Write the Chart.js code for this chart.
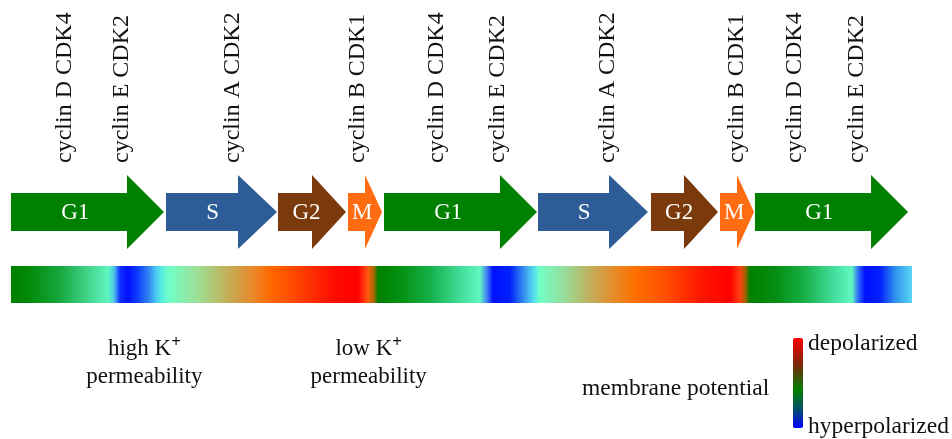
<!DOCTYPE html>
<html>
<head>
<meta charset="utf-8">
<script src="https://cdn.jsdelivr.net/npm/chart.js@4"></script>
<style>
  html, body { margin: 0; padding: 0; background: #fff; }
  #wrap { width: 952px; height: 439px; }
</style>
</head>
<body>
<div id="wrap"><canvas id="chart" width="952" height="439"></canvas></div>
<script>
// time axis runs 0..100 across three passes through the cycle
const phaseNames = ['G1', 'S', 'G2', 'M', 'G1', 'S', 'G2', 'M', 'G1'];
const phaseStart = [0, 17.2, 29.63, 37.4, 41.4, 58.49, 71.03, 78.69, 82.57];
const phaseEnd = [16.98, 29.52, 37.18, 41.18, 58.38, 70.7, 78.47, 82.46, 99.56];

const cyclinNames = ['cyclin D CDK4', 'cyclin E CDK2', 'cyclin A CDK2', 'cyclin B CDK1',
  'cyclin D CDK4', 'cyclin E CDK2', 'cyclin A CDK2', 'cyclin B CDK1',
  'cyclin D CDK4', 'cyclin E CDK2'];
const cyclinTimes = [5.99, 12.32, 24.64, 38.51, 47.28, 54.05, 66.26, 80.58, 87.01, 93.9];

// membrane potential along the cycle, as colour stops of the bar
const potentialTimes = [0, 2.11, 5.44, 8.77, 10.77, 11.43, 12.1, 12.99, 14.1, 15.21, 16.09, 16.76,
  17.43, 20.98, 24.53, 27.41, 28.75, 32.08, 35.96, 38.51, 39.62, 40.29, 40.73,
  43.17, 46.5, 49.83, 52.05, 52.72, 53.5, 55.38, 56.71, 57.82, 58.38, 58.6,
  61.49, 64.48, 67.04, 69.26, 72.59, 76.47, 79.8, 80.91, 81.47, 82.02,
  84.79, 88.12, 91.45, 93.34, 94.01, 94.78, 96.45, 98.11, 100];
const potentialColors = ['#007f00', '#028a08', '#18a840', '#45d890', '#5ef5c0', '#50c8e8', '#1030ff', '#0010ff', '#1040ff', '#3080f0', '#48c8f0', '#58f0e0',
  '#70ffc8', '#a0dc90', '#c8a850', '#f08020', '#ff6a00', '#ff4000', '#ff0a00', '#ff0000', '#ff5a10', '#a06a00', '#008000',
  '#029010', '#15b048', '#40dc98', '#60f8c0', '#4890f0', '#0010ff', '#0020ff', '#3080f0', '#50d0f0', '#60f0e0', '#70ffc8',
  '#98dc98', '#c4ac58', '#e88a28', '#ff7000', '#ff5000', '#ff1800', '#ff0000', '#ff4010', '#a86000', '#008000',
  '#058c10', '#18b048', '#45e0a0', '#60f8c0', '#3070f8', '#0010ff', '#0020ff', '#3090f0', '#58d8f0'];

const permLabels = ['high K', 'low K'];
const permTimes = [14.8, 39.7];

const legendTitle = 'membrane potential';
const legendTop = 'depolarized';
const legendBottom = 'hyperpolarized';

// styles
const FONT = '"Liberation Serif", "Times New Roman", serif';
const phaseColor = { G1: '#008000', S: '#2e5c96', G2: '#7a3a0b', M: '#ff6c12' };
const headLength = { G1: 37, S: 39, G2: 34, M: 17 };

const cellCycle = {
  id: 'cellCycle',
  afterDatasetsDraw(chart) {
    const ctx = chart.ctx;
    const x = chart.scales.x;
    const top = chart.chartArea.top;
    ctx.save();

    // cyclin labels
    ctx.fillStyle = '#111';
    ctx.font = '24px ' + FONT;
    ctx.textAlign = 'left';
    ctx.textBaseline = 'middle';
    cyclinNames.forEach((name, i) => {
      ctx.save();
      ctx.translate(x.getPixelForValue(cyclinTimes[i]), top + 163);
      ctx.rotate(-Math.PI / 2);
      ctx.fillText(name, 0, 0);
      ctx.restore();
    });

    // phase arrows
    const bodyTop = top + 193, bodyBot = top + 231, headTop = top + 175, headBot = top + 249;
    const mid = (bodyTop + bodyBot) / 2;
    phaseNames.forEach((p, i) => {
      const x0 = x.getPixelForValue(phaseStart[i]);
      const x1 = x.getPixelForValue(phaseEnd[i]);
      const hb = x1 - headLength[p];
      ctx.beginPath();
      ctx.moveTo(x0, bodyTop);
      ctx.lineTo(hb, bodyTop);
      ctx.lineTo(hb, headTop);
      ctx.lineTo(x1, mid);
      ctx.lineTo(hb, headBot);
      ctx.lineTo(hb, bodyBot);
      ctx.lineTo(x0, bodyBot);
      ctx.closePath();
      ctx.fillStyle = phaseColor[p];
      ctx.fill();
      ctx.fillStyle = '#fff';
      ctx.font = '23px ' + FONT;
      ctx.textAlign = 'center';
      ctx.textBaseline = 'middle';
      ctx.fillText(p, x0 + (x1 - x0) * 0.42, mid + 1);
    });

    // membrane potential bar
    const xs = x.getPixelForValue(0), xe = x.getPixelForValue(100);
    const grad = ctx.createLinearGradient(xs, 0, xe, 0);
    potentialTimes.forEach((t, i) => {
      grad.addColorStop((x.getPixelForValue(t) - xs) / (xe - xs), potentialColors[i]);
    });
    ctx.fillStyle = grad;
    ctx.fillRect(xs, top + 266, xe - xs, 37);

    // K+ permeability notes
    ctx.fillStyle = '#111';
    ctx.textBaseline = 'alphabetic';
    permLabels.forEach((lab, i) => {
      const cx = x.getPixelForValue(permTimes[i]);
      ctx.font = '23px ' + FONT;
      const w1 = ctx.measureText(lab).width;
      ctx.font = 'bold 17px ' + FONT;
      const w2 = ctx.measureText('+').width;
      const sx = cx - (w1 + w2) / 2;
      ctx.font = '23px ' + FONT;
      ctx.textAlign = 'left';
      ctx.fillText(lab, sx, top + 355);
      ctx.font = 'bold 17px ' + FONT;
      ctx.fillText('+', sx + w1, top + 347);
      ctx.font = '23px ' + FONT;
      ctx.textAlign = 'center';
      ctx.fillText('permeability', cx, top + 383);
    });

    // colour legend
    const lg = ctx.createLinearGradient(0, 338, 0, 428);
    lg.addColorStop(0, '#ff0000');
    lg.addColorStop(0.3, '#7a2808');
    lg.addColorStop(0.58, '#008000');
    lg.addColorStop(0.8, '#004a70');
    lg.addColorStop(1, '#0000ff');
    ctx.fillStyle = lg;
    ctx.beginPath();
    ctx.roundRect(793, 338, 10, 90, 2);
    ctx.fill();
    ctx.fillStyle = '#111';
    ctx.font = '23.5px ' + FONT;
    ctx.textAlign = 'left';
    ctx.fillText(legendTitle, 582, 395);
    ctx.fillText(legendTop, 808, 350);
    ctx.fillText(legendBottom, 808, 433);
    ctx.restore();
  }
};

new Chart(document.getElementById('chart').getContext('2d'), {
  type: 'scatter',
  data: { datasets: [{ data: [], pointRadius: 0 }] },
  options: {
    responsive: false,
    animation: false,
    devicePixelRatio: 1,
    layout: { padding: { left: 11, right: 40, top: 0, bottom: 0 } },
    plugins: { legend: { display: false }, tooltip: { enabled: false } },
    scales: {
      x: { type: 'linear', min: 0, max: 100, display: false },
      y: { min: 0, max: 1, display: false }
    }
  },
  plugins: [cellCycle]
});
</script>
</body>
</html>
